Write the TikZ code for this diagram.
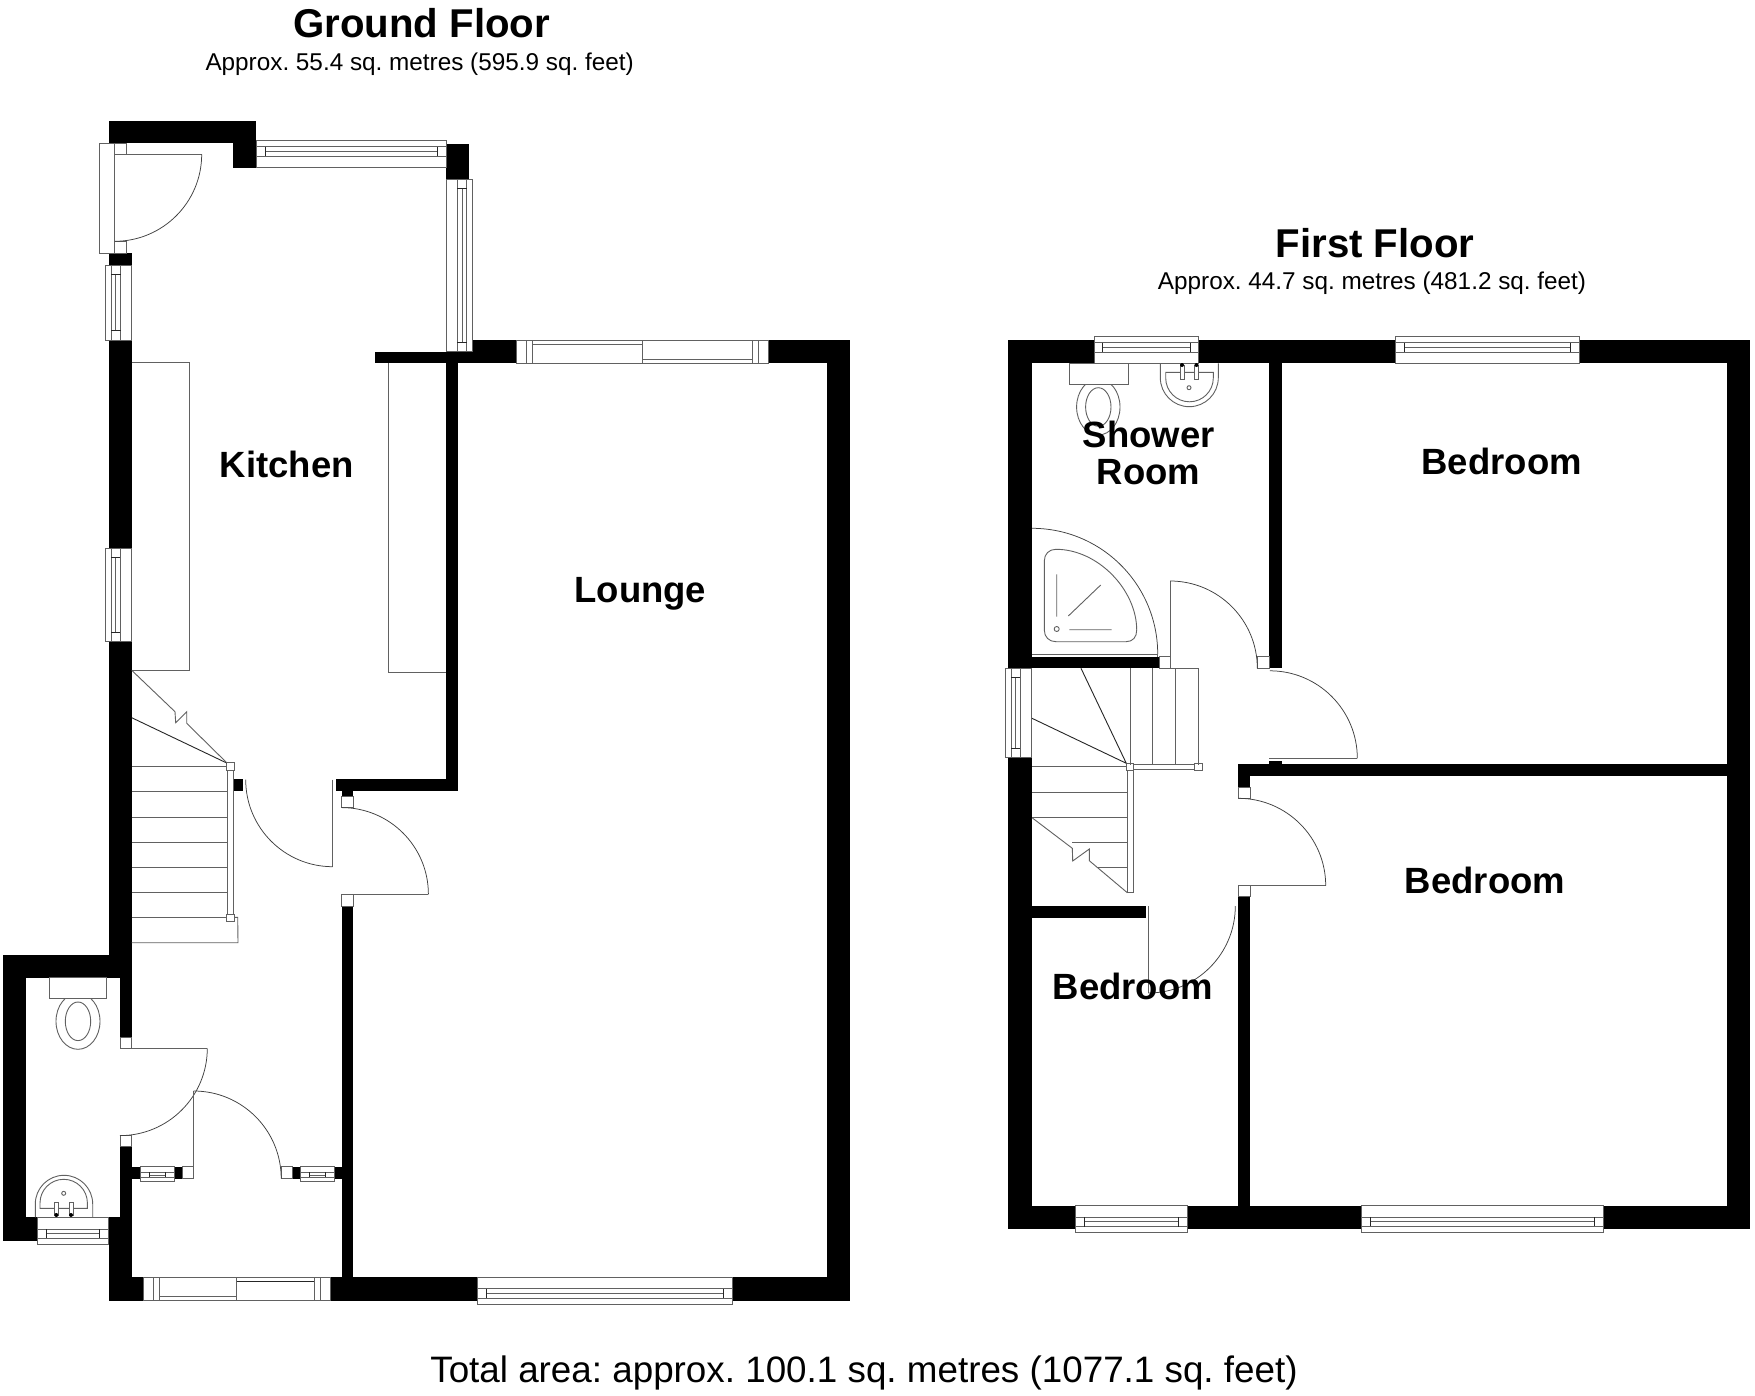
\documentclass[tikz,border=0pt]{standalone}
\usepackage{fontspec}
\setmainfont{Liberation Sans}
\frenchspacing
\tikzset{
  wallfill/.style={fill=black,draw=none},
  ln/.style={draw=black!62,line width=0.9pt},
  dk/.style={draw=black!85,line width=0.9pt},
  arcl/.style={draw=black!75,line width=0.75pt},
  title/.style={font=\fontsize{40.2}{40}\selectfont\bfseries,anchor=base},
  subt/.style={font=\fontsize{24.3}{24}\selectfont,anchor=base},
  room/.style={font=\fontsize{36.5}{36}\selectfont\bfseries,anchor=base},
  total/.style={font=\fontsize{36.8}{36}\selectfont,anchor=base},
}
\newcommand\WL[4]{\fill[wallfill] (#1,#2) rectangle (#3,#4);}
\newcommand\RC[4]{\draw[ln] (#1,#2) rectangle (#3,#4);}
\newcommand\HW[9]{\draw[ln] (#1,#3) rectangle (#2,#4);
  \draw[ln] (#1,#5) -- (#2,#5) (#1,#7) -- (#2,#7) (#8,#6) -- (#9,#6);
  \draw[dk] (#8,#5) -- (#8,#7) (#9,#5) -- (#9,#7);}
\newcommand\VW[9]{\draw[ln] (#3,#1) rectangle (#4,#2);
  \draw[ln] (#5,#1) -- (#5,#2) (#7,#1) -- (#7,#2) (#6,#8) -- (#6,#9);
  \draw[dk] (#5,#8) -- (#7,#8) (#5,#9) -- (#7,#9);}
\begin{document}
\begin{tikzpicture}[x=1pt,y=-1pt]
\useasboundingbox (0,0) rectangle (1755,1396);
\fill[white] (0,0) rectangle (1755,1396);
% ---- ground floor walls
\WL{109}{120.7}{256}{143.3}\WL{233}{143.3}{256}{167.7}
\WL{109}{253.3}{131.7}{265}
\WL{109}{340}{131.7}{548}\WL{109}{641.7}{131.7}{955}
\WL{2.7}{955}{131.7}{977.7}\WL{2.7}{977.7}{26}{1241}\WL{26}{1217.3}{37.3}{1241}
\WL{120}{977.7}{131.7}{1037.3}\WL{120}{1146.7}{131.7}{1217.3}
\WL{108.7}{1217.3}{131.7}{1300.7}
\WL{131.7}{1277.3}{143.3}{1300.7}\WL{330}{1277.3}{477}{1300.7}\WL{732.7}{1277.3}{850}{1300.7}
\WL{826.7}{340}{850}{1277.3}
\WL{768.7}{340}{850}{363.3}\WL{472.7}{340}{516.7}{363.3}\WL{375}{351.7}{472.7}{363.3}
\WL{446}{363.3}{457.7}{790.7}\WL{335.7}{779}{457.7}{790.7}
\WL{341.7}{790.7}{353.3}{796}\WL{233.3}{779}{243.3}{790.7}
\WL{341.7}{906}{353.3}{1277.3}
\WL{446}{144.3}{469}{179}
\WL{131.7}{1166.7}{140}{1178.7}\WL{174.3}{1166.7}{182.7}{1178.7}
\WL{292.3}{1166.7}{300}{1178.7}\WL{334.3}{1166.7}{341.7}{1178.7}
% ---- first floor walls
\WL{1008.3}{340}{1094}{363.3}\WL{1198.3}{340}{1395.7}{363.3}\WL{1579.3}{340}{1750}{363.3}
\WL{1008.3}{363.3}{1032}{668.3}\WL{1008.3}{757.3}{1032}{1229}
\WL{1726.7}{363.3}{1750}{1229}
\WL{1032}{1205.7}{1075}{1229}\WL{1187.7}{1205.7}{1361.7}{1229}\WL{1603.3}{1205.7}{1726.7}{1229}
\WL{1269.3}{363.3}{1281.7}{668.3}\WL{1032}{656.7}{1159}{668.3}
\WL{1238.3}{764}{1726.7}{775.7}\WL{1269.3}{760.7}{1281.7}{764}
\WL{1238.3}{775.7}{1250}{787.3}\WL{1238.3}{896.7}{1250}{1205.7}
\WL{1032}{906}{1146}{918}
% ---- windows
\HW{256}{446}{140.7}{167.3}{146.7}{151.7}{156}{265.7}{437.3}
\HW{1094}{1198.3}{336}{363.3}{342.7}{347.3}{352.3}{1102.7}{1190}
\HW{1395.7}{1579.3}{336}{363.3}{342.7}{347.3}{352}{1404.3}{1570}
\HW{477}{732.7}{1277.3}{1304.3}{1288.7}{1293.3}{1298.3}{486.3}{723.7}
\HW{1075}{1187.7}{1205.7}{1232.3}{1217.3}{1221}{1226.7}{1084}{1178.3}
\HW{1361.7}{1603.3}{1205.7}{1232.3}{1217.3}{1221.7}{1226.3}{1370.7}{1594.3}
\HW{37.3}{108.7}{1217.7}{1244.3}{1229.3}{1233.3}{1238.3}{46}{99.7}
\HW{140}{174.3}{1166.7}{1181.7}{1172.3}{1175}{1177.3}{149}{165.7}
\HW{300}{334.3}{1166.7}{1181.7}{1172.3}{1175}{1177.3}{309.3}{325.7}
\VW{265}{340}{105}{131.7}{111.3}{115.7}{120.7}{274}{330.7}
\VW{548}{641.7}{105.3}{131.7}{111.3}{115.7}{120.3}{557.3}{632.3}
\VW{179}{351.7}{446}{472.7}{457.3}{462}{466.7}{188.3}{342.3}
\VW{668.3}{757.3}{1005}{1031.3}{1011.3}{1015.7}{1020.3}{677.3}{748.7}
% ---- patio-style windows
\draw[ln] (516.7,340) rectangle (768.7,363.3);
\draw[ln] (526.3,340) -- (526.3,363.3) (532.3,340) -- (532.3,363.3)
  (752.7,340) -- (752.7,363.3) (758.7,340) -- (758.7,363.3) (642.7,340) -- (642.7,363.3)
  (532.3,344) -- (642.7,344) (642.7,359.3) -- (752.7,359.3);
\draw[ln] (143.3,1277.3) rectangle (330,1300.7);
\draw[ln] (153,1277.3) -- (153,1300.7) (159.3,1277.3) -- (159.3,1300.7)
  (314.3,1277.3) -- (314.3,1300.7) (320.3,1277.3) -- (320.3,1300.7) (236.7,1277.3) -- (236.7,1300.7)
  (159.3,1296.7) -- (236.7,1296.7);
\draw[dk] (236.7,1281.3) -- (314.3,1281.3);
% ---- doors
\RC{99.3}{143.3}{114.7}{253.3}
\RC{114.7}{143.3}{126.7}{154.3}\RC{114.7}{241.7}{126.7}{253.3}
\draw[ln] (114.7,154.3) -- (201.7,154.3);
\draw[arcl] (201.7,154.3) arc[start angle=0,end angle=-90,radius=87pt];
\draw[ln] (332.7,779.7) -- (332.7,866.7);
\draw[arcl] (245.7,779.7) arc[start angle=180,end angle=270,radius=87pt];
\RC{341.7}{796}{353.3}{807.7}\RC{341.7}{894.3}{353.3}{906}
\draw[ln] (341.7,894.3) -- (428.4,894.3);
\draw[arcl] (428.4,894.3) arc[start angle=0,end angle=90,radius=86.7pt];
\RC{120}{1037.3}{131.7}{1048.3}\RC{120}{1135.7}{131.7}{1146.7}
\draw[ln] (120,1048.3) -- (207.3,1048.3);
\draw[arcl] (207.3,1048.3) arc[start angle=0,end angle=-90,radius=87.3pt];
\RC{182.7}{1166.7}{193.7}{1178.7}\RC{281}{1166.7}{292.3}{1178.7}
\draw[ln] (193.7,1091) -- (193.7,1166.7);
\draw[arcl] (193.7,1091) arc[start angle=90,end angle=0,radius=87.5pt];
% first floor doors
\RC{1159}{656.7}{1170}{668.3}\RC{1257.3}{656.7}{1269}{668.3}
\draw[ln] (1170,581) -- (1170,656.7);
\draw[arcl] (1170,581) arc[start angle=90,end angle=0,radius=87.3pt];
\draw[ln] (1269.3,758.3) -- (1357.3,758.3);
\draw[arcl] (1357.3,758.3) arc[start angle=0,end angle=90,radius=87.5pt];
\RC{1238.3}{787.3}{1250}{798.3}\RC{1238.3}{885.7}{1250}{896.7}
\draw[ln] (1238.3,885.7) -- (1325.7,885.7);
\draw[arcl] (1325.7,885.7) arc[start angle=0,end angle=90,radius=87.4pt];
\draw[ln] (1148.3,906) -- (1148.3,993);
\draw[arcl] (1235.3,906) arc[start angle=0,end angle=-90,radius=87pt];
% ---- kitchen units
\draw[ln] (131.7,362.7) -- (189.3,362.7) -- (189.3,670.3) -- (131.7,670.3);
\draw[ln] (388.7,363.3) -- (388.7,672.3) -- (446,672.3);
% ---- ground floor stairs
\foreach \y in {766.7,791.7,817,842.3,867.3,892.3,917.3}{\draw[ln] (131.7,\y) -- (227.3,\y);}
\draw[ln] (227.3,770) rectangle (233.7,914);
\RC{226.7}{762.7}{234.3}{770.3}\RC{226.7}{914}{234.3}{921.7}
\draw[dk] (131.7,717.7) -- (226.7,763);
\draw[ln] (131.7,670.3) -- (175,711.7) -- (175.7,722.7) -- (186.7,711.7) -- (186.7,723.3) -- (226.7,762.7);
\draw[ln] (234.3,917.3) -- (237.7,917.3) -- (238,942.7) -- (131.7,942.7);
% ---- first floor stairs
\foreach \x in {1130,1152.7,1175.7,1198.7}{\draw[ln] (\x,668.3) -- (\x,765);}
\draw[ln] (1170,668.3) -- (1198.7,668.3);
\draw[ln] (1133.3,764.7) rectangle (1194.3,769.3);
\draw[ln] (1127.3,770) rectangle (1133.3,892.7);
\RC{1126.3}{763.3}{1133.3}{770}\RC{1194.3}{763.3}{1202.3}{770.7}
\draw[dk] (1081,668.3) -- (1126.3,763.3) (1032,718.3) -- (1126.3,763.3);
\draw[ln] (1032,766.7) -- (1127.3,766.7) (1032,792.3) -- (1127.3,792.3) (1032,817.3) -- (1127.3,817.3)
  (1072,842.3) -- (1127.3,842.3) (1097,867.3) -- (1127.3,867.3);
\draw[ln] (1032,817.7) -- (1072.3,848.3) -- (1072.7,861) -- (1089.3,849) -- (1089.3,860.7) -- (1127.3,892.7);
% ---- WC
\draw[ln] (78,1021.3) ellipse[x radius=22pt,y radius=28pt];
\draw[ln] (78,1021.3) ellipse[x radius=12.7pt,y radius=19.3pt];
\draw[ln,fill=white] (49.3,977.7) rectangle (106.7,998.7);
\draw[ln] (35.3,1217.3) -- (35.3,1204) arc[start angle=180,end angle=0,radius=28.7pt] -- (92.7,1217.3);
\draw[ln] (40,1208.3) -- (40,1203) arc[start angle=180,end angle=0,radius=23.7pt] -- (87.4,1208.3) -- cycle;
\draw[ln,fill=white] (54.3,1202.7) rectangle (58.3,1215);
\draw[ln,fill=white] (69,1202.7) rectangle (73,1215);
\fill (56.3,1215) circle[radius=2pt] (71,1215) circle[radius=2pt];
\draw[ln] (63.7,1193.3) circle[radius=2pt];
% ---- shower room fittings
\draw[ln] (1098.3,407) ellipse[x radius=21.7pt,y radius=28pt];
\draw[ln] (1098.3,407) ellipse[x radius=12.7pt,y radius=19.3pt];
\draw[ln,fill=white] (1069.3,363.3) rectangle (1128.3,384.3);
\draw[ln] (1160.3,363.3) -- (1160.3,377.7) arc[start angle=180,end angle=360,radius=29pt] -- (1218.3,363.3);
\draw[ln] (1165.7,372.3) -- (1165.7,378) arc[start angle=180,end angle=360,radius=23.8pt] -- (1213.3,372.3) -- cycle;
\draw[ln,fill=white] (1180,365) rectangle (1184,379);
\draw[ln,fill=white] (1194.7,365) rectangle (1198.3,379);
\fill (1182,365) circle[radius=2pt] (1196.5,365) circle[radius=2pt];
\draw[ln] (1189,387.7) circle[radius=2pt];
\draw[arcl] (1032,528.3) arc[start angle=90,end angle=0,radius=125.7pt];
\draw[ln] (1032,654) -- (1158,654);
\draw[ln] (1157.7,654) -- (1157.7,656.7);
\draw[ln] (1056,549.3) .. controls (1098,549.3) and (1136.7,590) .. (1136.7,630)
  .. controls (1136.7,637) and (1133,641.7) .. (1126,641.7) -- (1056,641.7)
  .. controls (1049,641.7) and (1044.3,637) .. (1044.3,630) -- (1044.3,561)
  .. controls (1044.3,554) and (1049,549.3) .. (1056,549.3) -- cycle;
\draw[ln] (1056.7,629) circle[radius=2.5pt];
\draw[ln] (1056.7,574.3) -- (1056.7,616.7) (1068.3,616) -- (1100.7,585) (1069.3,629.7) -- (1111.7,629.7);
% ---- text
\node[title] (gf) at (421.6,38) {Ground Floor};
\node[subt] (gfs) at (419.6,70.5) {Approx. 55.4 sq. metres (595.9 sq. feet)};
\node[title] (ff) at (1375,257.5) {First Floor};
\node[subt] (ffs) at (1372,289.5) {Approx. 44.7 sq. metres (481.2 sq. feet)};
\node[room] (kit) at (286.8,477.3) {Kitchen};
\node[room] (lou) at (640.3,602.3) {Lounge};
\node[room] (sh1) at (1148.6,447.3) {Shower};
\node[room] (sh2) at (1148.6,484) {Room};
\node[room] (bd1) at (1501.7,474.3) {Bedroom};
\node[room] (bd2) at (1485,893.3) {Bedroom};
\node[room] (bd3) at (1132.9,999.3) {Bedroom};
\node[total] (tot) at (864,1382) {Total area: approx. 100.1 sq. metres (1077.1 sq. feet)};
\end{tikzpicture}
\end{document}
